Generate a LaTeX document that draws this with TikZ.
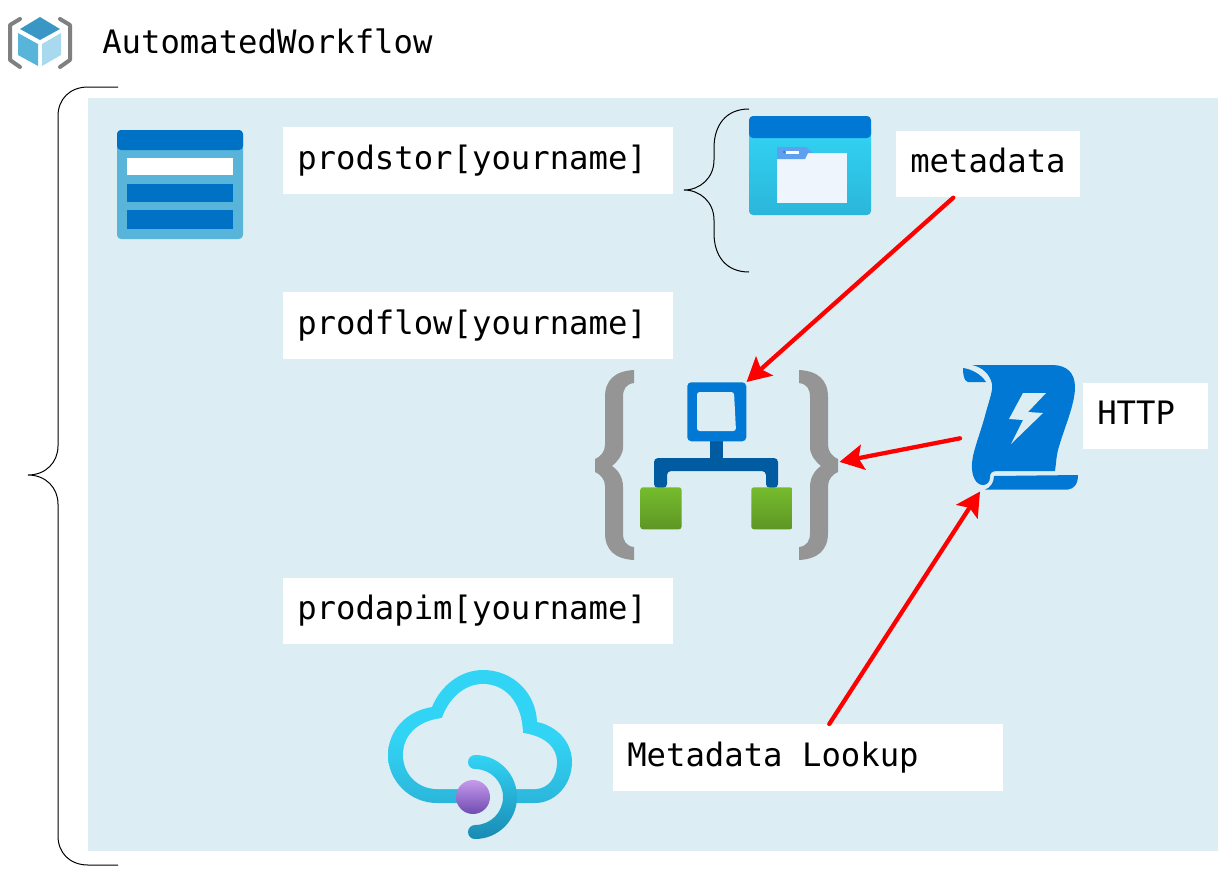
\documentclass[tikz,border=0pt]{standalone}
\usepackage{fontspec}
\setmonofont{DejaVu Sans Mono}
\usepackage{tikz}
\usetikzlibrary{arrows.meta,positioning}
\definecolor{paneBlue}{HTML}{DCEEF4}
\definecolor{azureBlue}{HTML}{0078D4}
\definecolor{deepBlue}{HTML}{005BA1}
\definecolor{tableBlue}{HTML}{0072C6}
\definecolor{skyBlue}{HTML}{59B4D9}
\definecolor{cyanTop}{HTML}{32D4F5}
\definecolor{cyanLow}{HTML}{2BB6DA}
\definecolor{braceGrey}{HTML}{959595}
\newcommand{\labelfont}{\ttfamily\fontsize{24.2pt}{29pt}\selectfont}
\tikzset{%
  >={Stealth[length=18pt,width=19pt,inset=3.5pt]},
  % Specifications for style of nodes:
      namebox/.style = {rectangle, fill=white, anchor=north west,
                        minimum height=50pt, inner xsep=10.5pt, inner ysep=0pt,
                        text width=#1, text height=18pt, text depth=5pt,
                        font=\labelfont},
     iconarea/.style = {rectangle, inner sep=0pt, anchor=north west},
     redarrow/.style = {->, red, line width=3.2pt, line cap=round},
    thinbrace/.style = {draw=black, line width=0.75pt},
   greenblock/.style = {rectangle, rounded corners=2pt, shading=axis,
                        top color={rgb,255:red,118;green,188;blue,45},
                        bottom color={rgb,255:red,94;green,150;blue,36}},
}
\begin{document}
\begin{tikzpicture}[x=0.75pt, y=-0.75pt]
  \useasboundingbox (0,0) rectangle (1218,890);
  % Background pane
  \fill[paneBlue] (88,98) rectangle (1218,851);
  % Specification of text nodes
  \node (workflowName) [anchor=base west, inner sep=0pt, font=\labelfont] at (102,53) {AutomatedWorkflow};
  \node (prodstor) [namebox=271.5pt] at (283,127) {prodstor[yourname]};
  \node (prodflow) [namebox=271.5pt] at (283,292) {prodflow[yourname]};
  \node (prodapim) [namebox=271.5pt] at (283,577.5) {prodapim[yourname]};
  \node (metadata) [namebox=117pt] at (896,130.5) {metadata};
  \node (http)     [namebox=72.75pt] at (1083,382.5) {HTTP};
  \node (lookup)   [namebox=271.5pt] at (613,724) {\spaceskip=14.57pt\relax Metadata Lookup};
  % Resource group icon
  \fill[color={rgb,255:red,58;green,151;blue,197}] (40,17) -- (60,29) -- (40,40) -- (20,29) -- cycle;
  \fill[skyBlue] (18,33) -- (38,44) -- (38,66) -- (18,55) -- cycle;
  \fill[color={rgb,255:red,169;green,217;blue,239}] (42,44) -- (61,33) -- (61,55) -- (42,66) -- cycle;
  \draw[gray, line width=3pt, line cap=round, line join=round]
     (20,19) -- (10,25) -- (10,60) -- (20,67);
  \draw[gray, line width=3pt, line cap=round, line join=round]
     (60,19) -- (70,25) -- (70,60) -- (60,67);
  % Storage account icon
  \fill[skyBlue, rounded corners=3pt] (117,130) rectangle (243,239);
  \fill[tableBlue, rounded corners=3pt] (117,150) -- (117,130) -- (243,130) -- (243,150) -- cycle;
  \fill[white] (127,158) rectangle (233,175);
  \fill[tableBlue] (127,184) rectangle (233,202);
  \fill[tableBlue] (127,210) rectangle (233,229);
  % Blob container icon
  \shade[top color=cyanTop, bottom color=cyanLow, rounded corners=3pt] (749,125) rectangle (871,215);
  \fill[azureBlue, rounded corners=3pt] (749,138) -- (749,116) -- (871,116) -- (871,138) -- cycle;
  \fill[color={rgb,255:red,238;green,245;blue,253}] (777,153) rectangle (847,203);
  \fill[color={rgb,255:red,94;green,160;blue,239}]
     (777,147) -- (806,147) -- (813,153) -- (808,153) -- (805,159) -- (777,159) -- cycle;
  \fill[white] (786,151) rectangle (799,154);
  \fill[azureBlue] (784,152) circle (1);
  % Logic app icon
  \node (flowBraces) [iconarea, minimum width=183pt, minimum height=142.5pt] at (595,370) {};
  \fill[braceGrey] (634,370) .. controls (615,371) and (605,380) .. (605,397) -- (605,445)
     .. controls (605,452) and (600,457) .. (595,459) -- (595,472)
     .. controls (600,474) and (605,479) .. (605,486) -- (605,533)
     .. controls (605,550) and (615,559) .. (634,560) -- (634,547)
     .. controls (626,546) and (623,541) .. (623,533) -- (623,487)
     .. controls (623,477) and (618,470) .. (612,466)
     .. controls (618,461) and (623,455) .. (623,447) -- (623,397)
     .. controls (623,389) and (626,384) .. (634,383) -- cycle;
  \fill[braceGrey] (799,370) .. controls (818,371) and (828,380) .. (828,397) -- (828,445)
     .. controls (828,452) and (833,457) .. (838,459) -- (838,472)
     .. controls (833,474) and (828,479) .. (828,486) -- (828,533)
     .. controls (828,550) and (818,559) .. (799,560) -- (799,547)
     .. controls (807,546) and (810,541) .. (810,533) -- (810,487)
     .. controls (810,477) and (815,470) .. (821,466)
     .. controls (815,461) and (810,455) .. (810,447) -- (810,397)
     .. controls (810,389) and (807,384) .. (799,383) -- cycle;
  \fill[deepBlue] (710,441) rectangle (722.5,459);
  \fill[deepBlue, rounded corners=3pt] (654,488) -- (654,458) -- (778,458) -- (778,488)
     -- (766,488) -- (766,471) -- (667,471) -- (667,488) -- cycle;
  \node (flowStep) [iconarea, fill=azureBlue, rounded corners=3pt,
        minimum width=44.25pt, minimum height=44.25pt] at (687,382) {};
  \fill[paneBlue, rounded corners=2pt] (697,392) -- (734,392) -- (736,431) -- (697,431) -- cycle;
  \node (leftAction)  [iconarea, greenblock, minimum width=31pt, minimum height=31.5pt] at (640,487) {};
  \node (rightAction) [iconarea, greenblock, minimum width=31pt, minimum height=31.5pt] at (751,487) {};
  % HTTP trigger icon
  \node (triggerScroll) [iconarea, minimum width=88.5pt, minimum height=93.75pt] at (960,365) {};
  \fill[azureBlue] (972,365) -- (1052,365) .. controls (1067,365) and (1075,373) .. (1075,387)
     .. controls (1075,405) and (1064,428) .. (1058,450)
     .. controls (1056,458) and (1056,465) .. (1055,471) -- (997,471)
     .. controls (991,471) and (990,474) .. (990,477)
     .. controls (990,482) and (987,485) .. (983,485)
     .. controls (976,485) and (971,476) .. (972,463)
     .. controls (973,450) and (981,432) .. (986,412)
     .. controls (990,398) and (993,390) .. (992,384)
     .. controls (990,374) and (982,367) .. (972,365) -- cycle;
  \fill[azureBlue] (963,368) .. controls (971,369) and (981,374) .. (986,382) -- (968,382)
     .. controls (964,381) and (963,375) .. (963,368) -- cycle;
  \fill[azureBlue] (994,476) -- (1078,475) .. controls (1078,484) and (1074,489) .. (1068,489.5)
     -- (985,489.5) .. controls (990,488) and (994,483) .. (994,476) -- cycle;
  \fill[paneBlue] (1023,393) -- (1046,393) -- (1028,412) -- (1043,413) -- (1011,444)
     -- (1023,420) -- (1009,419) -- cycle;
  % API management icon
  \shade[top color=cyanTop, bottom color=cyanLow, middle color=cyanTop]
     (437,803) .. controls (410,803) and (388,781) .. (388,755)
     .. controls (388,731) and (406,711) .. (432,707)
     .. controls (441,685) and (461,670) .. (483,670)
     .. controls (513,670) and (536,693) .. (537,722)
     .. controls (557,726) and (572,742) .. (572,762)
     .. controls (572,785) and (555,803) .. (535,803) -- cycle;
  \fill[paneBlue] (437,789) .. controls (418,789) and (403,774) .. (403,755)
     .. controls (403,736) and (417,721) .. (442,718)
     .. controls (449,698) and (465,684) .. (483,684)
     .. controls (505,684) and (522,702) .. (523,733)
     .. controls (545,736) and (557,748) .. (557,762)
     .. controls (557,777) and (548,789) .. (535,789) -- cycle;
  \fill[paneBlue] (475,786) rectangle (503,808);
  \shade[top color=cyanTop, bottom color={rgb,255:red,25;green,138;blue,179}]
     (475,755) arc[start angle=-90, end angle=90, radius=42]
     arc[start angle=90, end angle=270, radius=7]
     arc[start angle=90, end angle=-90, radius=28]
     arc[start angle=90, end angle=270, radius=7] -- cycle;
  \shade[top color={rgb,255:red,198;green,154;blue,235}, bottom color={rgb,255:red,111;green,75;blue,178}]
     (473,797) circle (17);
  % Braces
  \draw[thinbrace] (118,87) -- (88,87) .. controls (70,87) and (58,99) .. (58,116) -- (58,446)
     .. controls (58,462) and (46,475) .. (28,475)
     .. controls (46,475) and (58,488) .. (58,504) -- (58,836)
     .. controls (58,853) and (70,865) .. (88,865) -- (118,865);
  \draw[thinbrace] (749,109) .. controls (726,109) and (714,125) .. (714,148) -- (714,160)
     .. controls (714,178) and (700,190) .. (684,190)
     .. controls (700,190) and (714,202) .. (714,220) -- (714,233)
     .. controls (714,256) and (726,272) .. (749,272);
  % Lines between nodes specified above
  \draw[redarrow] ([xshift=-26.25pt]metadata.south) -- (flowStep.north east);
  \draw[redarrow] ([yshift=-7.9pt]triggerScroll.west) -- ([yshift=2.55pt]flowBraces.east);
  \draw[redarrow] ([xshift=15.75pt]lookup.north) -- ([xshift=15pt,yshift=-0.75pt]triggerScroll.south west);
\end{tikzpicture}
\end{document}
